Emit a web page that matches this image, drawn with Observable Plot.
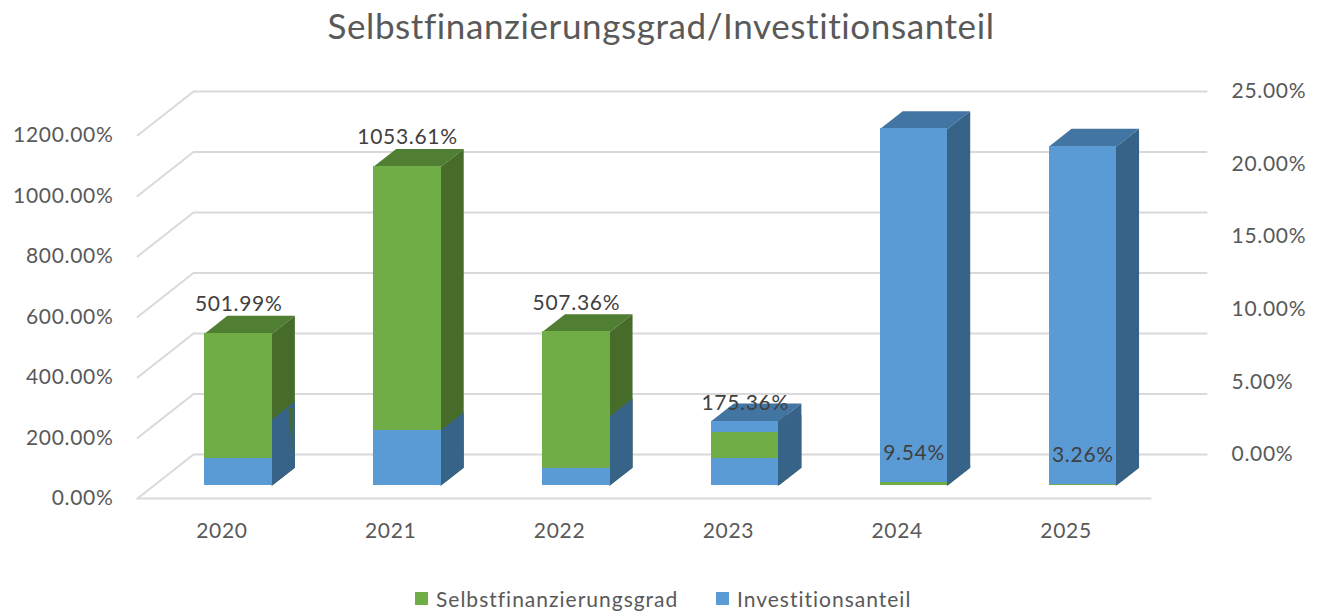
<!DOCTYPE html>
<html>
<head>
<meta charset="utf-8">
<script src="https://cdn.jsdelivr.net/npm/d3@7"></script>
<script src="https://cdn.jsdelivr.net/npm/@observablehq/plot@0.6"></script>
<style>
html,body{margin:0;padding:0;background:#fff;width:1318px;height:612px;overflow:hidden}
#title{height:60px;padding-left:4px;box-sizing:border-box;text-align:center;font:35px/51px Lato,sans-serif;letter-spacing:.6px;font-variant-ligatures:none;color:#595959}
#legend{height:42px;display:flex;font:21px Lato,sans-serif;letter-spacing:1px;font-variant-ligatures:none;color:#595959;padding-left:415px;padding-top:14px;box-sizing:border-box;align-items:center}
#legend i{display:inline-block;width:13px;height:13px;margin-right:8px;flex:none}
#legend span{display:flex;align-items:center}
#legend span:first-child{width:301px}
svg{display:block}
svg text{letter-spacing:.7px;font-variant-ligatures:none}
</style>
</head>
<body>
<div id="title">Selbstfinanzierungsgrad/Investitionsanteil</div>
<div id="chart"></div>
<div id="legend"><span><i style="background:#70AD47"></i>Selbstfinanzierungsgrad</span><span><i style="background:#5B9BD5"></i>Investitionsanteil</span></div>
<script>
const years = [2020, 2021, 2022, 2023, 2024, 2025];
const selbstfinanzierungsgrad = [501.99, 1053.61, 507.36, 175.36, 9.54, 3.26];
const investitionsanteil = [4.55, 3.8, 4.77, 4.42, 24.55, 23.34];
const investitionsanteilVorn = [1.82, 3.8, 1.13, 1.82, 0, 0];
const leftTicks = [0, 200, 400, 600, 800, 1000, 1200];
const rightTicks = [0, 5, 10, 15, 20, 25];
// thin dark sliver seen on the side of the 2020 column: [depth, value]
const sliver2020 = [[0.586, 212], [0.66, 205], [0.657, 56]];

// oblique projection of the 3D box: depth d in [0,1] shifts x and y
const DX = 0.3317, DY = 145.5, D0 = 0.3, D1 = 0.7, HALF = 0.2, TUCK = 0.008;
const SECONDARY = 1200 / 25;
const proj = (i, v, d) => ({x: i + d * DX, y: v + d * DY});
const pct = (v) => v.toFixed(2) + "%";
const idx = years.map((_, i) => i);

const green = {front: "#70AD47", side: "#476C2A", top: "#507E32"};
const blue = {front: "#5B9BD5", side: "#376389", top: "#4375A3"};

const topFace = (vals) => idx.flatMap((i) => [
  proj(i - HALF, vals[i], D0), proj(i + HALF, vals[i], D0),
  proj(i + HALF, vals[i], D1), proj(i - HALF, vals[i], D1)
].map((p) => ({...p, id: i})));
// the side starts slightly behind the front face so no seam shows between them
const sideFace = (vals) => idx.flatMap((i) => [
  proj(i + HALF - TUCK, 0, D0), proj(i + HALF, 0, D0), proj(i + HALF, 0, D1),
  proj(i + HALF, vals[i], D1), proj(i + HALF, vals[i], D0), proj(i + HALF - TUCK, vals[i], D0)
].map((p) => ({...p, id: i})));
const frontRows = (vals) => idx.map((i) => ({
  x1: proj(i - HALF, 0, D0).x, x2: proj(i + HALF, 0, D0).x,
  y1: proj(i, 0, D0).y, y2: proj(i, vals[i], D0).y
}));

const blueLeft = investitionsanteil.map((p) => p * SECONDARY);
const blueFrontLeft = investitionsanteilVorn.map((p) => p * SECONDARY);

const gridRows = leftTicks.flatMap((v) => [proj(-0.5, v, 0), proj(-0.5, v, 1), proj(5.5, v, 1)].map((p) => ({...p, id: v})));
const floorRows = [proj(-0.5, 0, 0), proj(5.5, 0, 0)];
const sliverRows = sliver2020.map(([d, v]) => ({...proj(HALF, v, d), id: 0}));

const labelRows = idx.map((i) => ({...proj(i, selbstfinanzierungsgrad[i], D0), text: pct(selbstfinanzierungsgrad[i])}));

const poly = (rows, fill) => Plot.line(rows, {x: "x", y: "y", z: "id", fill, stroke: "none"});
const rect = (rows, fill) => Plot.rect(rows, {x1: "x1", x2: "x2", y1: "y1", y2: "y2", fill, shapeRendering: "crispEdges"});

const chart = Plot.plot({
  width: 1318, height: 510,
  marginLeft: 137, marginRight: 168, marginTop: 75, marginBottom: 72,
  x: {type: "linear", domain: [-0.5, 5.5]},
  y: {type: "linear", domain: [0, 1200]},
  style: {fontFamily: "Lato, sans-serif", fontSize: "21px", background: "#fff", overflow: "visible"},
  marks: [
    Plot.line(gridRows, {x: "x", y: "y", z: "id", stroke: "#D9D9D9", strokeWidth: 2}),
    Plot.line(floorRows, {x: "x", y: "y", stroke: "#D9D9D9", strokeWidth: 2}),
    poly(topFace(selbstfinanzierungsgrad), green.top),
    poly(topFace(blueLeft), blue.top),
    poly(sideFace(selbstfinanzierungsgrad), green.side),
    poly(sideFace(blueLeft), blue.side),
    poly(sliverRows, green.side),
    rect(frontRows(blueLeft), blue.front),
    rect(frontRows(selbstfinanzierungsgrad), green.front),
    rect(frontRows(blueFrontLeft), blue.front),
    Plot.axisY(leftTicks, {anchor: "left", tickSize: 0, tickPadding: 24, tickFormat: pct, color: "#595959", label: null}),
    Plot.axisY(rightTicks.map((p) => p * SECONDARY + DY), {anchor: "right", tickSize: 0, tickPadding: 81, tickFormat: (v) => pct((v - DY) / SECONDARY), color: "#595959", label: null}),
    Plot.axisX(idx, {anchor: "bottom", tickSize: 0, tickPadding: 25, tickFormat: (i) => String(years[i]), color: "#595959", label: null}),
    Plot.text(labelRows, {x: "x", y: "y", text: "text", dy: -29, fill: "#404040", style: "letter-spacing:.8px"})
  ]
});
document.getElementById("chart").append(chart);
</script>
</body>
</html>
